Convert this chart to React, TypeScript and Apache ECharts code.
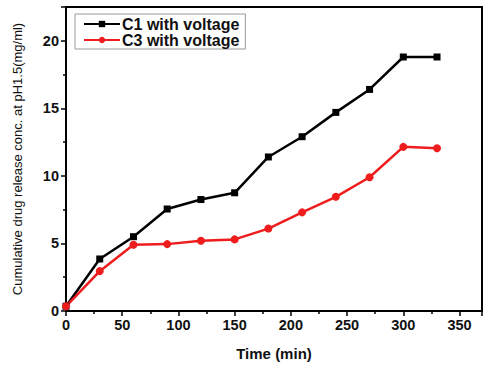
import React, { useEffect, useRef } from "react";
import * as echarts from "echarts";

const times = [0, 30, 60, 90, 120, 150, 180, 210, 240, 270, 300, 330];
const c1Values = [0.35, 3.85, 5.5, 7.55, 8.25, 8.75, 11.4, 12.9, 14.7, 16.4, 18.8, 18.8];
const c3Values = [0.35, 2.95, 4.9, 4.95, 5.2, 5.3, 6.1, 7.3, 8.45, 9.9, 12.15, 12.05];
const seriesNames = ["C1 with voltage", "C3 with voltage"];

export default function App() {
  const ref = useRef<HTMLDivElement>(null);
  useEffect(() => {
    if (!ref.current) return;
    const chart = echarts.init(ref.current, undefined, { renderer: "svg" });
    const font = "Liberation Sans, Arial, sans-serif";
    chart.setOption({
      animation: false,
      backgroundColor: "#ffffff",
      grid: {
        left: 66,
        top: 7,
        right: 1,
        bottom: 56,
        show: true,
        borderColor: "#000",
        borderWidth: 2,
      },
      legend: {
        orient: "vertical",
        left: 75,
        top: 14,
        borderColor: "#999",
        borderWidth: 1,
        padding: [2, 6, 1, 8],
        itemGap: 0,
        itemWidth: 36,
        itemHeight: 8,
        textStyle: { fontFamily: font, fontWeight: "bold", fontSize: 16, color: "#111", padding: [0, 0, 0, -3] },
        data: seriesNames,
      },
      xAxis: {
        type: "value",
        min: 0,
        max: 370,
        interval: 50,
        name: "Time (min)",
        nameLocation: "middle",
        nameGap: 35,
        nameTextStyle: { fontFamily: font, fontWeight: "bold", fontSize: 15, color: "#111" },
        axisLine: { show: true, lineStyle: { color: "#000", width: 2 } },
        axisTick: { show: true, inside: false, length: 5, lineStyle: { color: "#000", width: 1.5 } },
        minorTick: { show: true, splitNumber: 2, length: 3, lineStyle: { color: "#000", width: 1.5 } },
        splitLine: { show: false },
        axisLabel: {
          showMaxLabel: false,
          fontFamily: font,
          fontWeight: "bold",
          fontSize: 14.5,
          color: "#111",
          margin: 6,
        },
      },
      yAxis: {
        type: "value",
        min: 0,
        max: 22.5,
        interval: 5,
        name: "Cumulative drug release conc. at pH1.5(mg/ml)",
        nameLocation: "middle",
        nameGap: 42,
        nameTextStyle: { fontFamily: font, fontSize: 13, color: "#111" },
        axisLine: { show: true, lineStyle: { color: "#000", width: 2 } },
        axisTick: { show: true, inside: false, length: 5, lineStyle: { color: "#000", width: 1.5 } },
        minorTick: { show: true, splitNumber: 2, length: 3, lineStyle: { color: "#000", width: 1.5 } },
        splitLine: { show: false },
        axisLabel: {
          showMaxLabel: false,
          fontFamily: font,
          fontWeight: "bold",
          fontSize: 14.5,
          color: "#111",
          margin: 7,
        },
      },
      series: [
        {
          name: seriesNames[0],
          type: "line",
          data: times.map((t, i) => [t, c1Values[i]]),
          symbol: "rect",
          symbolSize: 7,
          color: "#000000",
          lineStyle: { width: 2.5, color: "#000000" },
          itemStyle: { color: "#000000" },
        },
        {
          name: seriesNames[1],
          type: "line",
          data: times.map((t, i) => [t, c3Values[i]]),
          symbol: "circle",
          symbolSize: 8,
          color: "#ee1c1c",
          lineStyle: { width: 2.5, color: "#ee1c1c" },
          itemStyle: { color: "#ee1c1c" },
        },
      ],
    });
    return () => chart.dispose();
  }, []);
  return (
    <div
      ref={ref}
      style={{ position: "absolute", left: 0, top: 0, width: 483, height: 367 }}
    />
  );
}
